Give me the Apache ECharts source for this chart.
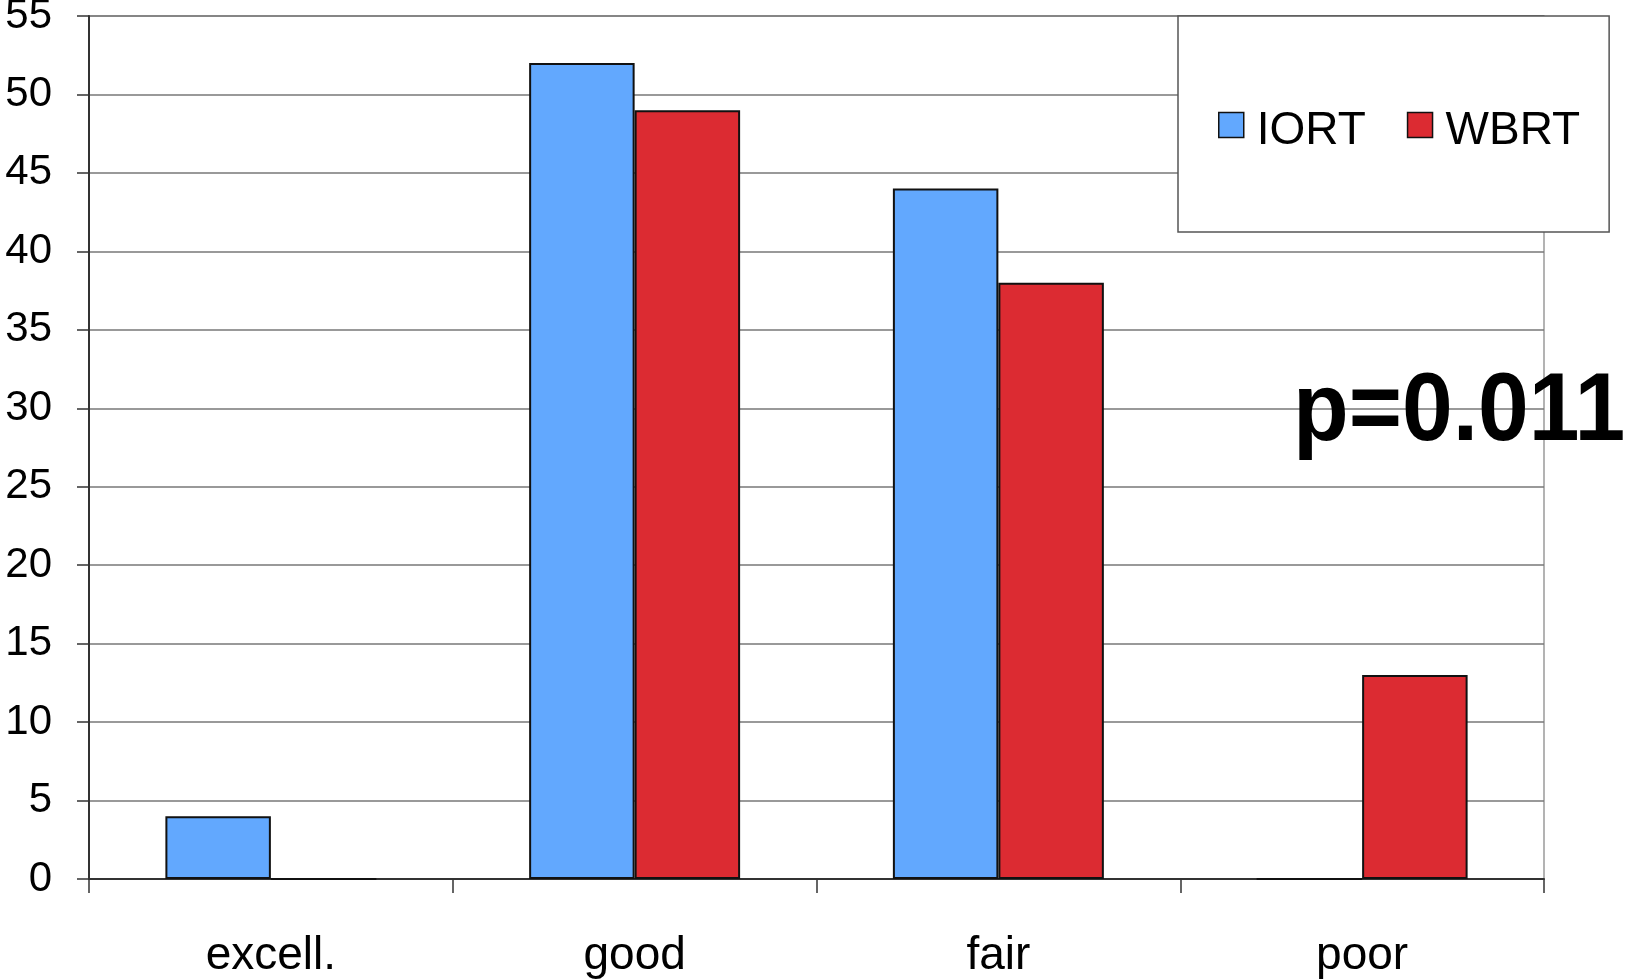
<!DOCTYPE html>
<html>
<head>
<meta charset="utf-8">
<style>
html,body{margin:0;padding:0;background:#fff;}
#chart{width:1628px;height:980px;}
</style>
<script src="https://cdn.jsdelivr.net/npm/echarts@6/dist/echarts.min.js"></script>
</head>
<body>
<div id="chart"></div>
<script>
const categories = ['excell.', 'good', 'fair', 'poor'];
const iortValues = [4, 52, 44, 0];
const wbrtValues = [0, 49, 38, 13];
const seriesNames = ['IORT', 'WBRT'];
const annotation = 'p=0.011';

const FONT = "'Liberation Sans', Arial, Helvetica, sans-serif";
const chart = echarts.init(document.getElementById('chart'), null, {renderer: 'canvas'});

chart.setOption({
  backgroundColor: '#ffffff',
  animation: false,
  grid: {
    left: 89, right: 84, top: 16, bottom: 101,
    outerBoundsMode: 'none',
    containLabel: false,
    show: true, borderColor: '#9a9a9a', borderWidth: 1.5, backgroundColor: 'transparent'
  },
  legend: {
    left: 1178, top: 16,
    orient: 'horizontal',
    padding: [92, 29, 78, 40],
    backgroundColor: '#ffffff',
    borderColor: '#555555',
    borderWidth: 1.5,
    itemWidth: 25, itemHeight: 25,
    itemGap: 41,
    icon: 'rect',
    itemStyle: {borderColor: '#111111', borderWidth: 1.5},
    formatter: function (name) { return '{t|' + name + '}'; },
    textStyle: {
      fontFamily: FONT, fontSize: 46, color: '#000',
      rich: {t: {fontFamily: FONT, fontSize: 46, color: '#000', padding: [12, 0, 0, 8]}}
    },
    data: seriesNames
  },
  xAxis: {
    type: 'category',
    data: categories,
    axisLine: {show: true, lineStyle: {color: '#333', width: 2}},
    axisTick: {show: true, length: 14, lineStyle: {color: '#333', width: 1.5}},
    axisLabel: {fontFamily: FONT, fontSize: 46, color: '#000', margin: 54},
    splitLine: {show: false}
  },
  yAxis: {
    type: 'value',
    min: 0, max: 55, interval: 5,
    axisLine: {show: true, lineStyle: {color: '#333', width: 2}},
    axisTick: {show: true, length: 12, lineStyle: {color: '#333', width: 1.5}},
    axisLabel: {fontFamily: FONT, fontSize: 42, color: '#000', margin: 37},
    splitLine: {show: true, lineStyle: {color: '#777', width: 1.5}}
  },
  series: [
    {
      name: seriesNames[0], type: 'bar', data: iortValues,
      barGap: '0%', barCategoryGap: '42%',
      itemStyle: {color: '#62a8fe', borderColor: '#111', borderWidth: 2}
    },
    {
      name: seriesNames[1], type: 'bar', data: wbrtValues,
      barGap: '0%', barCategoryGap: '42%',
      itemStyle: {color: '#dc2b32', borderColor: '#111', borderWidth: 2}
    }
  ],
  graphic: [{
    type: 'text',
    x: 1293, y: 366,
    scaleX: 0.95, scaleY: 1,
    z: 100,
    style: {text: annotation, x: 0, y: 0, textVerticalAlign: 'top', verticalAlign: 'top',
            fontFamily: FONT, fontWeight: 'bold', fontSize: 96, fill: '#000'}
  }]
});
</script>
</body>
</html>
